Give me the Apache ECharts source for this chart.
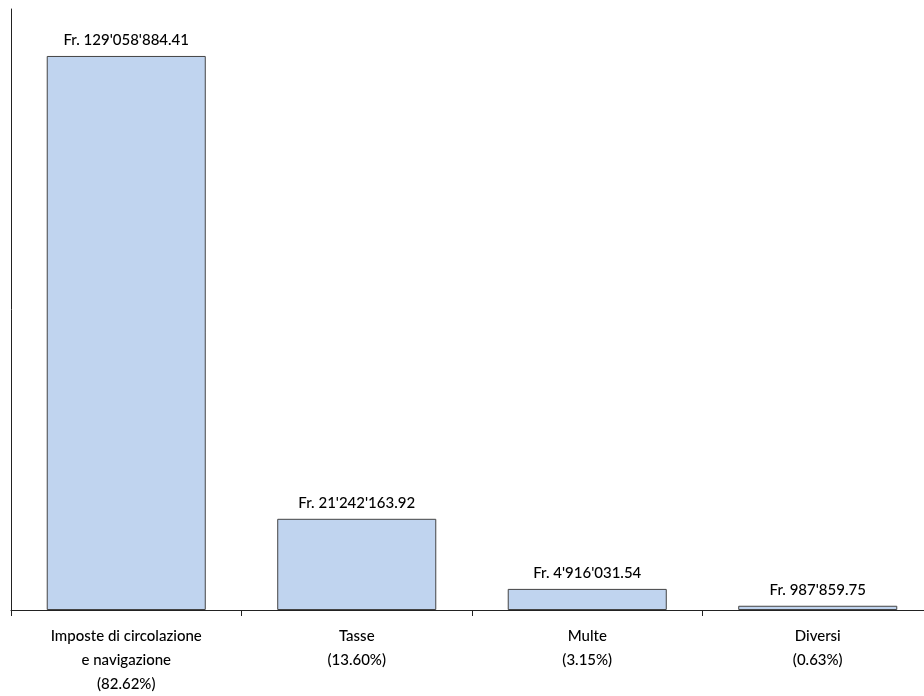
<!DOCTYPE html>
<html><head><meta charset="utf-8">
<script src="https://cdn.jsdelivr.net/npm/echarts@6/dist/echarts.min.js"></script>
<style>html,body{margin:0;padding:0;background:#fff;overflow:hidden}#c{width:933px;height:696px}</style>
</head><body><div id="c"></div>
<script>
const categories = ["Imposte di circolazione\ne navigazione", "Tasse", "Multe", "Diversi"];
const values = [129058884.41, 21242163.92, 4916031.54, 987859.75];
const percents = ["82.62%", "13.60%", "3.15%", "0.63%"];

function fmt(v){
  const parts = v.toFixed(2).split('.');
  return 'Fr. ' + parts[0].replace(/\B(?=(\d{3})+(?!\d))/g, "'") + '.' + parts[1];
}
const labels = categories.map((c,i)=> c + '\n(' + percents[i] + ')');
const chart = echarts.init(document.getElementById('c'));
chart.setOption({
  animation:false,
  textStyle:{fontFamily:'Lato, "Open Sans", sans-serif'},
  grid:{left:11, top:9, right:0, bottom:84, containLabel:false},
  xAxis:{type:'category', data:labels,
    axisLine:{show:true, lineStyle:{color:'#222', width:1}},
    axisTick:{show:true, length:6, alignWithLabel:false, lineStyle:{color:'#222'}},
    axisLabel:{color:'#000', fontSize:15, lineHeight:24, margin:14, interval:0, fontWeight:500, fontFamily:'Lato, sans-serif'}
  },
  yAxis:{type:'value', min:0, max:140000000,
    axisLine:{show:true, lineStyle:{color:'#222', width:1}},
    axisTick:{show:false}, axisLabel:{show:false}, splitLine:{show:false}
  },
  series:[{type:'bar', data:values, barWidth:'69%',
    itemStyle:{color:'#c0d4ef', borderColor:'#444', borderWidth:1},
    label:{show:true, position:'top', distance:8, color:'#000', fontSize:15, fontWeight:500, fontFamily:'Lato, sans-serif',
      formatter:p=>fmt(p.value)}
  }]
});
</script></body></html>
